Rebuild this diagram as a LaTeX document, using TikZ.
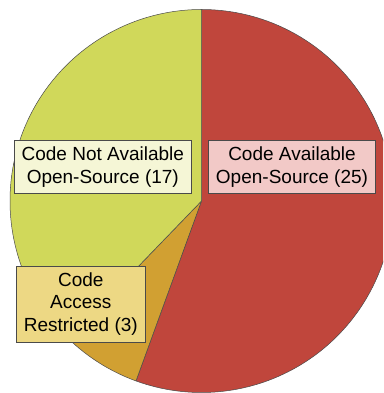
\documentclass[tikz,border=0pt]{standalone}
\usepackage{fontspec}
\setmainfont{Liberation Sans}
\definecolor{sliceRed}{HTML}{C0463C}
\definecolor{sliceOrange}{HTML}{D1A032}
\definecolor{sliceGreen}{HTML}{D0D85A}
\definecolor{boxPink}{HTML}{F2C9C7}
\definecolor{boxCream}{HTML}{F5F6D6}
\definecolor{boxYellow}{HTML}{EDD884}
\definecolor{edgeGray}{HTML}{4A4A4A}
\tikzset{
  slice/.style={draw=edgeGray, line width=0.5pt, line join=round},
  labelbox/.style={draw=edgeGray, line width=0.9pt, inner sep=0pt, align=center,
    font=\fontsize{19}{22.8}\selectfont, text=black},
}
\begin{document}
\begin{tikzpicture}[x=1pt, y=1pt]
  \useasboundingbox (0,0) rectangle (383,393);
  \clip (0,0) rectangle (383,393);
  % pie: 25 + 3 + 17 = 45 entries, clockwise from the top
  \begin{scope}[shift={(201.5,192)}]
    \def\rad{191.5}
    \filldraw[slice, fill=sliceRed] (0,0) -- (90:\rad)
      arc[start angle=90, end angle=-110, radius=\rad] -- cycle;
    \filldraw[slice, fill=sliceOrange] (0,0) -- (-110:\rad)
      arc[start angle=-110, end angle=-134, radius=\rad] -- cycle;
    \filldraw[slice, fill=sliceGreen] (0,0) -- (-134:\rad)
      arc[start angle=-134, end angle=-270, radius=\rad] -- cycle;
  \end{scope}
  % slice labels
  \node[labelbox, fill=boxPink, minimum width=166.7pt, minimum height=53.3pt]
    (open) at (292,225.7) {Code Available\\Open-Source (25)};
  \node[labelbox, fill=boxCream, minimum width=177.7pt, minimum height=53.3pt]
    (closed) at (102.8,225.7) {Code Not Available\\Open-Source (17)};
  \node[labelbox, fill=boxYellow, minimum width=129pt, minimum height=76pt]
    (restricted) at (80.8,89) {Code\\Access\\Restricted (3)};
\end{tikzpicture}
\end{document}
